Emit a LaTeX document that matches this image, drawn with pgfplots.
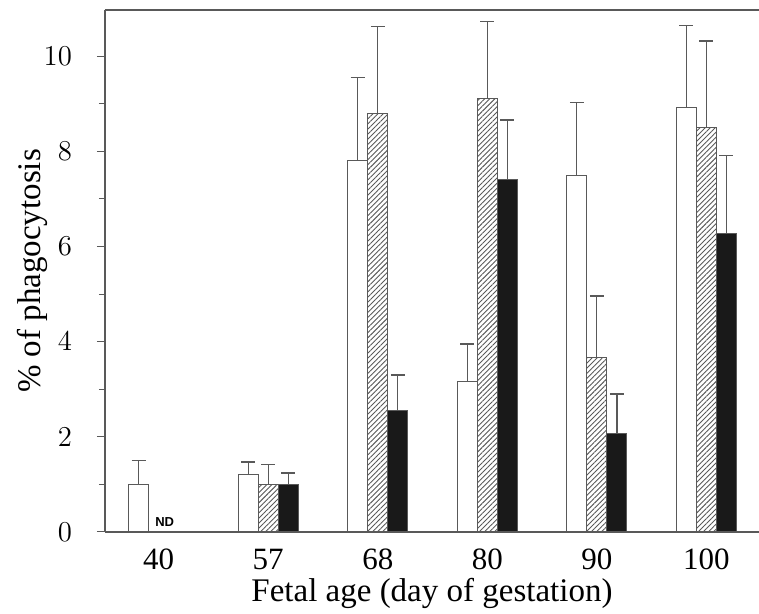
\documentclass[border=0pt]{standalone}
\usepackage{pgfplots}
\usepackage{pgfplotstable}
\pgfplotsset{compat=1.18}
\usetikzlibrary{patterns.meta}
\usepackage{fontspec}
\setmainfont{Liberation Serif}
\setsansfont{Liberation Sans}
\definecolor{LINE}{gray}{0.35}

% white, hatched, black bars: x = group index, y = value, e = upper error
\pgfplotstableread{
x y e
0 1.00 0.50
1 1.20 0.27
2 7.80 1.75
3 3.17 0.78
4 7.50 1.53
5 8.93 1.72
}\tabwhite
\pgfplotstableread{
x y e
1 1.00 0.41
2 8.80 1.83
3 9.12 1.60
4 3.66 1.30
5 8.51 1.81
}\tabhatched
\pgfplotstableread{
x y e
1 1.00 0.24
2 2.56 0.74
3 7.40 1.26
4 2.08 0.82
5 6.28 1.64
}\tabblack

\begin{document}
\begin{tikzpicture}
\begin{axis}[
    scale only axis,
    width=327pt, height=261pt,
    xmin=-0.49, xmax=5.48,
    ymin=0, ymax=10.97,
    axis x line=box, axis y line=left,
    axis line style={-, draw=LINE, line width=0.6pt},
    xtick={0,1,2,3,4,5},
    xticklabels={40,57,68,80,90,100},
    major x tick style={draw=none},
    ytick={0,2,4,6,8,10},
    minor y tick num=1,
    tick align=outside,
    major tick length=4pt, minor tick length=3pt,
    y tick style={draw=LINE, line width=0.5pt},
    ticklabel style={font=\fontsize{15.5}{17}\selectfont},
    yticklabel style={xshift=-9pt},
    xticklabel style={yshift=-1pt},
    xlabel={Fetal age (day of gestation)},
    ylabel={\% of phagocytosis},
    label style={font=\fontsize{16.5}{19}\selectfont},
    xlabel style={yshift=2.5pt},
    ylabel style={yshift=-9pt},
    every axis plot/.append style={
        ybar, bar width=0.183, bar shift=0pt, draw=LINE, line width=0.5pt,
        error bars/y dir=plus, error bars/y explicit,
        error bars/error bar style={draw=LINE, line width=0.6pt},
        error bars/error mark options={rotate=90, draw=LINE, line width=0.6pt, mark size=3.5pt},
    },
    clip=false,
]
\addplot[fill=white] table[x expr=\thisrow{x}-0.183, y=y, y error=e] {\tabwhite};
\addplot[pattern={Lines[angle=45,distance=1.8pt,line width=0.45pt]}, pattern color=LINE]
    table[x=x, y=y, y error=e] {\tabhatched};
\addplot[fill=black!90] table[x expr=\thisrow{x}+0.183, y=y, y error=e] {\tabblack};
\node[font=\sffamily\bfseries\fontsize{6.5}{7}\selectfont, inner sep=0pt]
    at (axis cs:0.055,0.21) {ND};
\end{axis}
\pgfresetboundingbox
\path ([xshift=-52.5pt,yshift=-41pt]current axis.south west)
    rectangle ([yshift=5pt]current axis.north east);
\end{tikzpicture}
\end{document}
